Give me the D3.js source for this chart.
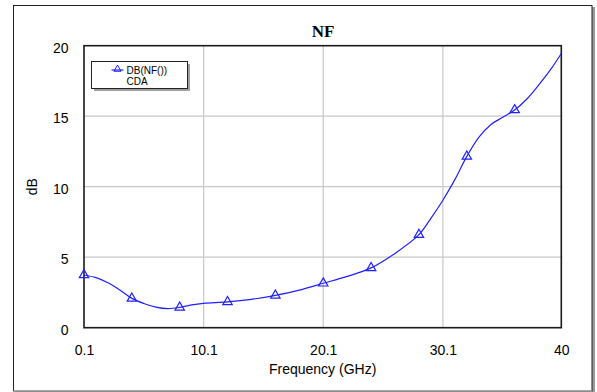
<!DOCTYPE html>
<html>
<head>
<meta charset="utf-8">
<script src="https://cdn.jsdelivr.net/npm/d3@7"></script>
<style>
  html, body { margin: 0; padding: 0; background: #fff; }
  svg { display: block; }
</style>
</head>
<body>
<svg id="chart" width="597" height="392"></svg>
<script>
// ---- data ----
const title = "NF";
const xLabel = "Frequency (GHz)";
const yLabel = "dB";
const legendLabel = "DB(NF())";
const legendSub = "CDA";
const xTicks = [0.1, 10.1, 20.1, 30.1, 40];
const yTicks = [0, 5, 10, 15, 20];
// sweep (curve) values
const freq = [0.1, 1.1, 2.1, 3.1, 4.1, 5.1, 6.1, 7.1, 8.1, 9.1, 10.1, 12.1, 14.1, 16.1, 18.1,
              20.1, 22.1, 24.1, 26.1, 28.1, 29.1, 30.1, 31.1, 32.1, 33.1, 34.1, 35.1, 36.1,
              37.1, 38.1, 39.1, 40];
const nf   = [3.74, 3.55, 3.19, 2.67, 2.08, 1.72, 1.46, 1.35, 1.44, 1.62, 1.73, 1.83, 2.01, 2.29, 2.67,
              3.15, 3.64, 4.24, 5.27, 6.6, 7.76, 9.04, 10.5, 12.15, 13.5, 14.4, 14.92, 15.44,
              16.2, 17.2, 18.3, 19.45];
// marker frequencies
const markerFreq = [0.1, 4.1, 8.1, 12.1, 16.1, 20.1, 24.1, 28.1, 32.1, 36.1];

// ---- layout ----
const svg = d3.select("#chart");
const plot = { left: 84, top: 45.7, right: 561.3, bottom: 327.7 };
const blue = "#2020ff";

const x = d3.scaleLinear().domain([0.1, 40]).range([plot.left, plot.right]);
const y = d3.scaleLinear().domain([0, 20]).range([plot.bottom, plot.top]);

// outer frame with shadow
svg.append("rect").attr("x", 15).attr("y", 7).attr("width", 580).attr("height", 390)
  .attr("fill", "#9a9a9a");
svg.append("rect").attr("x", 13.5).attr("y", 5.5).attr("width", 578.5).attr("height", 385.5)
  .attr("fill", "#fff").attr("stroke", "#222").attr("stroke-width", 1);
svg.append("line").attr("x1", 13.5).attr("x2", 592).attr("y1", 391).attr("y2", 391)
  .attr("stroke", "#bbb").attr("stroke-width", 1);

// grid
const grid = svg.append("g");
grid.selectAll("line.gx").data(xTicks.slice(1, -1)).join("line")
  .attr("x1", d => x(d)).attr("x2", d => x(d))
  .attr("y1", plot.top).attr("y2", plot.bottom)
  .attr("stroke", "#c8c8c8").attr("stroke-width", 1.2);
grid.selectAll("line.gy").data(yTicks.slice(1, -1)).join("line")
  .attr("x1", plot.left).attr("x2", plot.right)
  .attr("y1", d => y(d)).attr("y2", d => y(d))
  .attr("stroke", "#c8c8c8").attr("stroke-width", 1.2);

// plot frame
svg.append("rect").attr("x", plot.left).attr("y", plot.top)
  .attr("width", plot.right - plot.left).attr("height", plot.bottom - plot.top)
  .attr("fill", "none").attr("stroke", "#1a1a1a").attr("stroke-width", 1.6);

// axes (labels only, via d3 axis)
const font = "Liberation Sans, Arial, sans-serif";
const xAxis = svg.append("g").attr("transform", `translate(0,${plot.bottom})`)
  .call(d3.axisBottom(x).tickValues(xTicks).tickSize(0).tickPadding(0).tickFormat(d => String(d)));
xAxis.select(".domain").remove();
xAxis.selectAll("text").attr("font-family", font).attr("font-size", 14).attr("fill", "#000")
  .attr("dy", null).attr("y", 27.5);

const yAxis = svg.append("g").attr("transform", `translate(${plot.left},0)`)
  .call(d3.axisLeft(y).tickValues(yTicks).tickSize(0).tickPadding(0).tickFormat(d => String(d)));
yAxis.select(".domain").remove();
yAxis.selectAll("text").attr("font-family", font).attr("font-size", 14).attr("fill", "#000")
  .attr("x", -15.5).attr("dy", "0.45em");

// axis titles
svg.append("text").attr("x", (plot.left + plot.right) / 2).attr("y", 373.5)
  .attr("text-anchor", "middle").attr("font-family", font).attr("font-size", 14)
  .text(xLabel);
svg.append("text").attr("transform", `translate(37,${(plot.top + plot.bottom) / 2}) rotate(-90)`)
  .attr("text-anchor", "middle").attr("font-family", font).attr("font-size", 14)
  .text(yLabel);
svg.append("text").attr("x", 323).attr("y", 37)
  .attr("text-anchor", "middle").attr("font-family", "Liberation Serif, Times New Roman, serif")
  .attr("font-weight", "bold").attr("font-size", 17).text(title);

// curve
const pts = freq.map((f, i) => [f, nf[i]]);
svg.append("path").datum(pts)
  .attr("fill", "none").attr("stroke", blue).attr("stroke-width", 1.2)
  .attr("d", d3.line().x(d => x(d[0])).y(d => y(d[1])).curve(d3.curveCatmullRom.alpha(0.5)));

// markers
const tri = d3.symbol().type(d3.symbolTriangle).size(38);
svg.selectAll("path.mk").data(markerFreq).join("path")
  .attr("class", "mk")
  .attr("transform", d => `translate(${x(d)},${y(nf[freq.indexOf(d)])})`)
  .attr("d", tri).attr("fill", "none").attr("stroke", blue).attr("stroke-width", 1.2);

// legend
const lg = svg.append("g");
lg.append("rect").attr("x", 94).attr("y", 64).attr("width", 96).attr("height", 27).attr("fill", "#a0a0a0");
lg.append("rect").attr("x", 91.5).attr("y", 61.5).attr("width", 96).attr("height", 27)
  .attr("fill", "#fff").attr("stroke", "#222").attr("stroke-width", 1);
lg.append("line").attr("x1", 111.5).attr("x2", 123.5).attr("y1", 70).attr("y2", 70)
  .attr("stroke", blue).attr("stroke-width", 1.2);
lg.append("path").attr("transform", "translate(117.5,69.2)")
  .attr("d", d3.symbol().type(d3.symbolTriangle).size(22))
  .attr("fill", "none").attr("stroke", blue).attr("stroke-width", 1);
lg.append("text").attr("x", 126.5).attr("y", 73.5).attr("font-family", font).attr("font-size", 10)
  .text(legendLabel);
lg.append("text").attr("x", 137).attr("y", 84.5).attr("text-anchor", "middle")
  .attr("font-family", font).attr("font-size", 10).text(legendSub);
</script>
</body>
</html>
